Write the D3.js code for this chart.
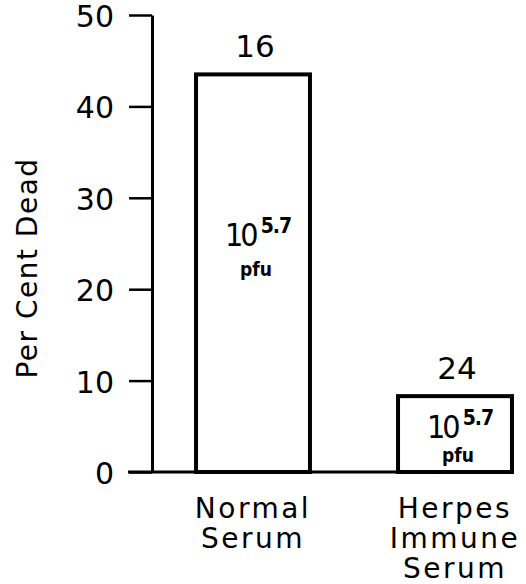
<!DOCTYPE html>
<html>
<head>
<meta charset="utf-8">
<script src="https://cdn.jsdelivr.net/npm/d3@7/dist/d3.min.js"></script>
<style>
  html, body { margin: 0; padding: 0; background: #fff; }
  svg { display: block; }
  text { font-family: "DejaVu Sans", sans-serif; fill: #000; }
</style>
</head>
<body>
<script>
// ---- data ----
const categories = ["Normal Serum", "Herpes Immune Serum"];
const categoryLines = [["Normal", "Serum"], ["Herpes", "Immune", "Serum"]];
const perCentDead = [43.5, 8.3];
const animalsCount = ["16", "24"];
const doseBase = ["10", "10"];
const doseExp = ["5.7", "5.7"];
const doseUnit = ["pfu", "pfu"];
const yTicks = [0, 10, 20, 30, 40, 50];
const yTitle = "Per Cent Dead";

const W = 526, H = 584;
const svg = d3.select("body").append("svg").attr("width", W).attr("height", H);

const y = d3.scaleLinear().domain([0, 50]).range([472, 15]);
const x = d3.scaleBand().domain(categories).range([152, 556])
  .paddingInner(0.436).paddingOuter(0.218);

const narrow = "'Liberation Sans Narrow', 'DejaVu Sans Condensed', 'DejaVu Sans', sans-serif";

// y axis
const yAxis = d3.axisLeft(y).tickValues(yTicks).tickSize(23).tickSizeOuter(0).tickPadding(15);
const gy = svg.append("g").attr("transform", "translate(152,0)").call(yAxis);
gy.select(".domain").attr("stroke", "#000").attr("stroke-width", 3);
gy.selectAll(".tick line").attr("stroke", "#000").attr("stroke-width", 2.5);
gy.selectAll(".tick text").attr("font-size", 30).attr("dy", "0.38em")
  .style("font-family", "DejaVu Sans, sans-serif").attr("fill", "#000");

// baseline
svg.append("line")
  .attr("x1", 128).attr("x2", x(categories[1]) + x.bandwidth())
  .attr("y1", y(0)).attr("y2", y(0))
  .attr("stroke", "#000").attr("stroke-width", 3);

// y title
svg.append("text")
  .attr("transform", `translate(37, ${268}) rotate(-90)`)
  .attr("text-anchor", "middle")
  .attr("font-size", 28)
  .attr("letter-spacing", 1.5)
  .text(yTitle);

// bars
svg.selectAll("rect.bar").data(categories).enter().append("rect")
  .attr("class", "bar")
  .attr("x", d => x(d))
  .attr("width", x.bandwidth())
  .attr("y", (d, i) => y(perCentDead[i]))
  .attr("height", (d, i) => y(0) - y(perCentDead[i]))
  .attr("fill", "none").attr("stroke", "#000").attr("stroke-width", 4);

// count labels above bars
svg.selectAll("text.count").data(categories).enter().append("text")
  .attr("class", "count")
  .attr("x", d => x(d) + x.bandwidth() / 2 + 2)
  .attr("y", (d, i) => y(perCentDead[i]) - 17)
  .attr("text-anchor", "middle")
  .attr("font-size", 31)
  .text((d, i) => animalsCount[i]);

// dose labels inside bars
const doseY = [246, 438];
const unitGap = [30, 24];
categories.forEach((c, i) => {
  const cx = x(c) + x.bandwidth() / 2;
  const t = svg.append("text")
    .attr("x", cx - 28).attr("y", doseY[i])
    .attr("font-size", 32)
    .style("font-family", narrow);
  t.append("tspan").attr("letter-spacing", -3).text(doseBase[i]);
  t.append("tspan").attr("dx", 5).attr("dy", -13)
    .attr("font-size", 21).attr("font-weight", "bold").attr("letter-spacing", -1).text(doseExp[i]);
  svg.append("text")
    .attr("x", cx + 3).attr("y", doseY[i] + unitGap[i])
    .attr("text-anchor", "middle")
    .attr("font-size", 19).attr("font-weight", "bold")
    .style("font-family", narrow)
    .text(doseUnit[i]);
});

// category labels
categories.forEach((c, i) => {
  const cx = x(c) + x.bandwidth() / 2;
  const t = svg.append("text")
    .attr("text-anchor", "middle")
    .attr("font-size", 28)
    .attr("letter-spacing", 2.5);
  categoryLines[i].forEach((line, k) => {
    t.append("tspan").attr("x", cx).attr("y", 518 + k * 30).text(line);
  });
});
</script>
</body>
</html>
